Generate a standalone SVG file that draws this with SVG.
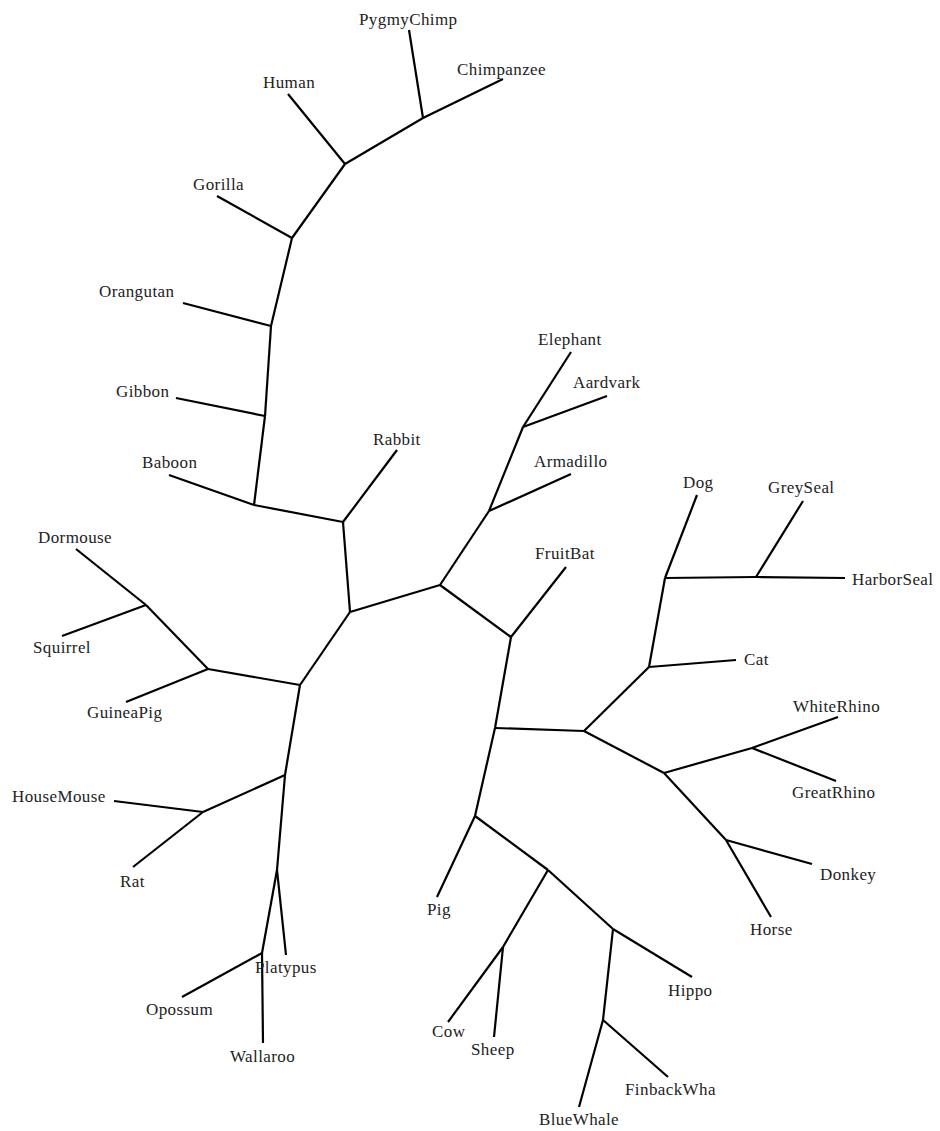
<svg xmlns="http://www.w3.org/2000/svg" width="940" height="1131" viewBox="0 0 940 1131">
<style>
.e{fill:none;stroke:#000;stroke-width:2.2;stroke-linecap:butt;stroke-linejoin:miter}
.t{font-family:"Liberation Serif","Times New Roman",serif;font-size:17px;letter-spacing:0.4px;fill:#222}
</style>
<rect width="940" height="1131" fill="#fff"/>
<g id="connectors">
<path class="e" d="M409,30 L423,118"/>
<path class="e" d="M503,79 L423,118 L345,164"/>
<path class="e" d="M288,94 L345,164"/>
<path class="e" d="M345,164 L292,238"/>
<path class="e" d="M217,196 L292,238"/>
<path class="e" d="M292,238 L271,326"/>
<path class="e" d="M183,303 L271,326"/>
<path class="e" d="M271,326 L265,416"/>
<path class="e" d="M176,398 L265,416"/>
<path class="e" d="M265,416 L254,505"/>
<path class="e" d="M169,475 L254,505"/>
<path class="e" d="M254,505 L343,522"/>
<path class="e" d="M397,450 L343,522"/>
<path class="e" d="M343,522 L350,612"/>
<path class="e" d="M350,612 L440,585"/>
<path class="e" d="M350,612 L300,685"/>
<path class="e" d="M440,585 L489,511"/>
<path class="e" d="M489,511 L523,427"/>
<path class="e" d="M523,427 L571,352"/>
<path class="e" d="M523,427 L607,396"/>
<path class="e" d="M489,511 L571,474"/>
<path class="e" d="M440,585 L511,637"/>
<path class="e" d="M511,637 L566,567"/>
<path class="e" d="M511,637 L495,728"/>
<path class="e" d="M495,728 L584,731"/>
<path class="e" d="M495,728 L475,816"/>
<path class="e" d="M584,731 L649,667"/>
<path class="e" d="M649,667 L736,660"/>
<path class="e" d="M649,667 L665,578"/>
<path class="e" d="M665,578 L697,495"/>
<path class="e" d="M665,578 L756,577"/>
<path class="e" d="M756,577 L803,501"/>
<path class="e" d="M756,577 L845,578"/>
<path class="e" d="M584,731 L664,773"/>
<path class="e" d="M664,773 L752,748"/>
<path class="e" d="M752,748 L838,717"/>
<path class="e" d="M752,748 L836,781"/>
<path class="e" d="M664,773 L726,840"/>
<path class="e" d="M726,840 L812,864"/>
<path class="e" d="M726,840 L771,917"/>
<path class="e" d="M475,816 L437,897"/>
<path class="e" d="M475,816 L548,870"/>
<path class="e" d="M548,870 L613,929"/>
<path class="e" d="M613,929 L692,977"/>
<path class="e" d="M613,929 L603,1020"/>
<path class="e" d="M603,1020 L579,1107"/>
<path class="e" d="M603,1020 L668,1077"/>
<path class="e" d="M548,870 L503,947"/>
<path class="e" d="M503,947 L448,1022"/>
<path class="e" d="M503,947 L494,1037"/>
<path class="e" d="M300,685 L208,669"/>
<path class="e" d="M208,669 L146,605"/>
<path class="e" d="M146,605 L76,549"/>
<path class="e" d="M146,605 L62,636"/>
<path class="e" d="M208,669 L126,702"/>
<path class="e" d="M300,685 L285,775"/>
<path class="e" d="M285,775 L203,812"/>
<path class="e" d="M203,812 L114,801"/>
<path class="e" d="M203,812 L133,867"/>
<path class="e" d="M285,775 L277,870"/>
<path class="e" d="M277,870 L286,955"/>
<path class="e" d="M277,870 L262,953"/>
<path class="e" d="M262,953 L182,997"/>
<path class="e" d="M262,953 L263,1043"/>
</g>
<g id="PygmyChimp"><text class="t" x="359" y="25">PygmyChimp</text></g>
<g id="Chimpanzee"><text class="t" x="457" y="75">Chimpanzee</text></g>
<g id="Human"><text class="t" x="263" y="88">Human</text></g>
<g id="Gorilla"><text class="t" x="193" y="190">Gorilla</text></g>
<g id="Orangutan"><text class="t" x="99" y="297">Orangutan</text></g>
<g id="Gibbon"><text class="t" x="116" y="397">Gibbon</text></g>
<g id="Baboon"><text class="t" x="142" y="468">Baboon</text></g>
<g id="Rabbit"><text class="t" x="373" y="445">Rabbit</text></g>
<g id="Elephant"><text class="t" x="538" y="345">Elephant</text></g>
<g id="Aardvark"><text class="t" x="573" y="388">Aardvark</text></g>
<g id="Armadillo"><text class="t" x="534" y="467">Armadillo</text></g>
<g id="FruitBat"><text class="t" x="535" y="559">FruitBat</text></g>
<g id="Dog"><text class="t" x="683" y="488">Dog</text></g>
<g id="GreySeal"><text class="t" x="768" y="493">GreySeal</text></g>
<g id="HarborSeal"><text class="t" x="852" y="585">HarborSeal</text></g>
<g id="Cat"><text class="t" x="744" y="665">Cat</text></g>
<g id="WhiteRhino"><text class="t" x="793" y="712">WhiteRhino</text></g>
<g id="GreatRhino"><text class="t" x="792" y="798">GreatRhino</text></g>
<g id="Donkey"><text class="t" x="820" y="880">Donkey</text></g>
<g id="Horse"><text class="t" x="750" y="935">Horse</text></g>
<g id="Hippo"><text class="t" x="668" y="996">Hippo</text></g>
<g id="FinbackWha"><text class="t" x="625" y="1095">FinbackWha</text></g>
<g id="BlueWhale"><text class="t" x="539" y="1125">BlueWhale</text></g>
<g id="Sheep"><text class="t" x="471" y="1055">Sheep</text></g>
<g id="Cow"><text class="t" x="432" y="1037">Cow</text></g>
<g id="Pig"><text class="t" x="427" y="915">Pig</text></g>
<g id="Opossum"><text class="t" x="146" y="1015">Opossum</text></g>
<g id="Wallaroo"><text class="t" x="230" y="1062">Wallaroo</text></g>
<g id="Platypus"><text class="t" x="255" y="973">Platypus</text></g>
<g id="Rat"><text class="t" x="120" y="887">Rat</text></g>
<g id="HouseMouse"><text class="t" x="12" y="802">HouseMouse</text></g>
<g id="GuineaPig"><text class="t" x="87" y="718">GuineaPig</text></g>
<g id="Squirrel"><text class="t" x="33" y="653">Squirrel</text></g>
<g id="Dormouse"><text class="t" x="38" y="543">Dormouse</text></g>
</svg>
